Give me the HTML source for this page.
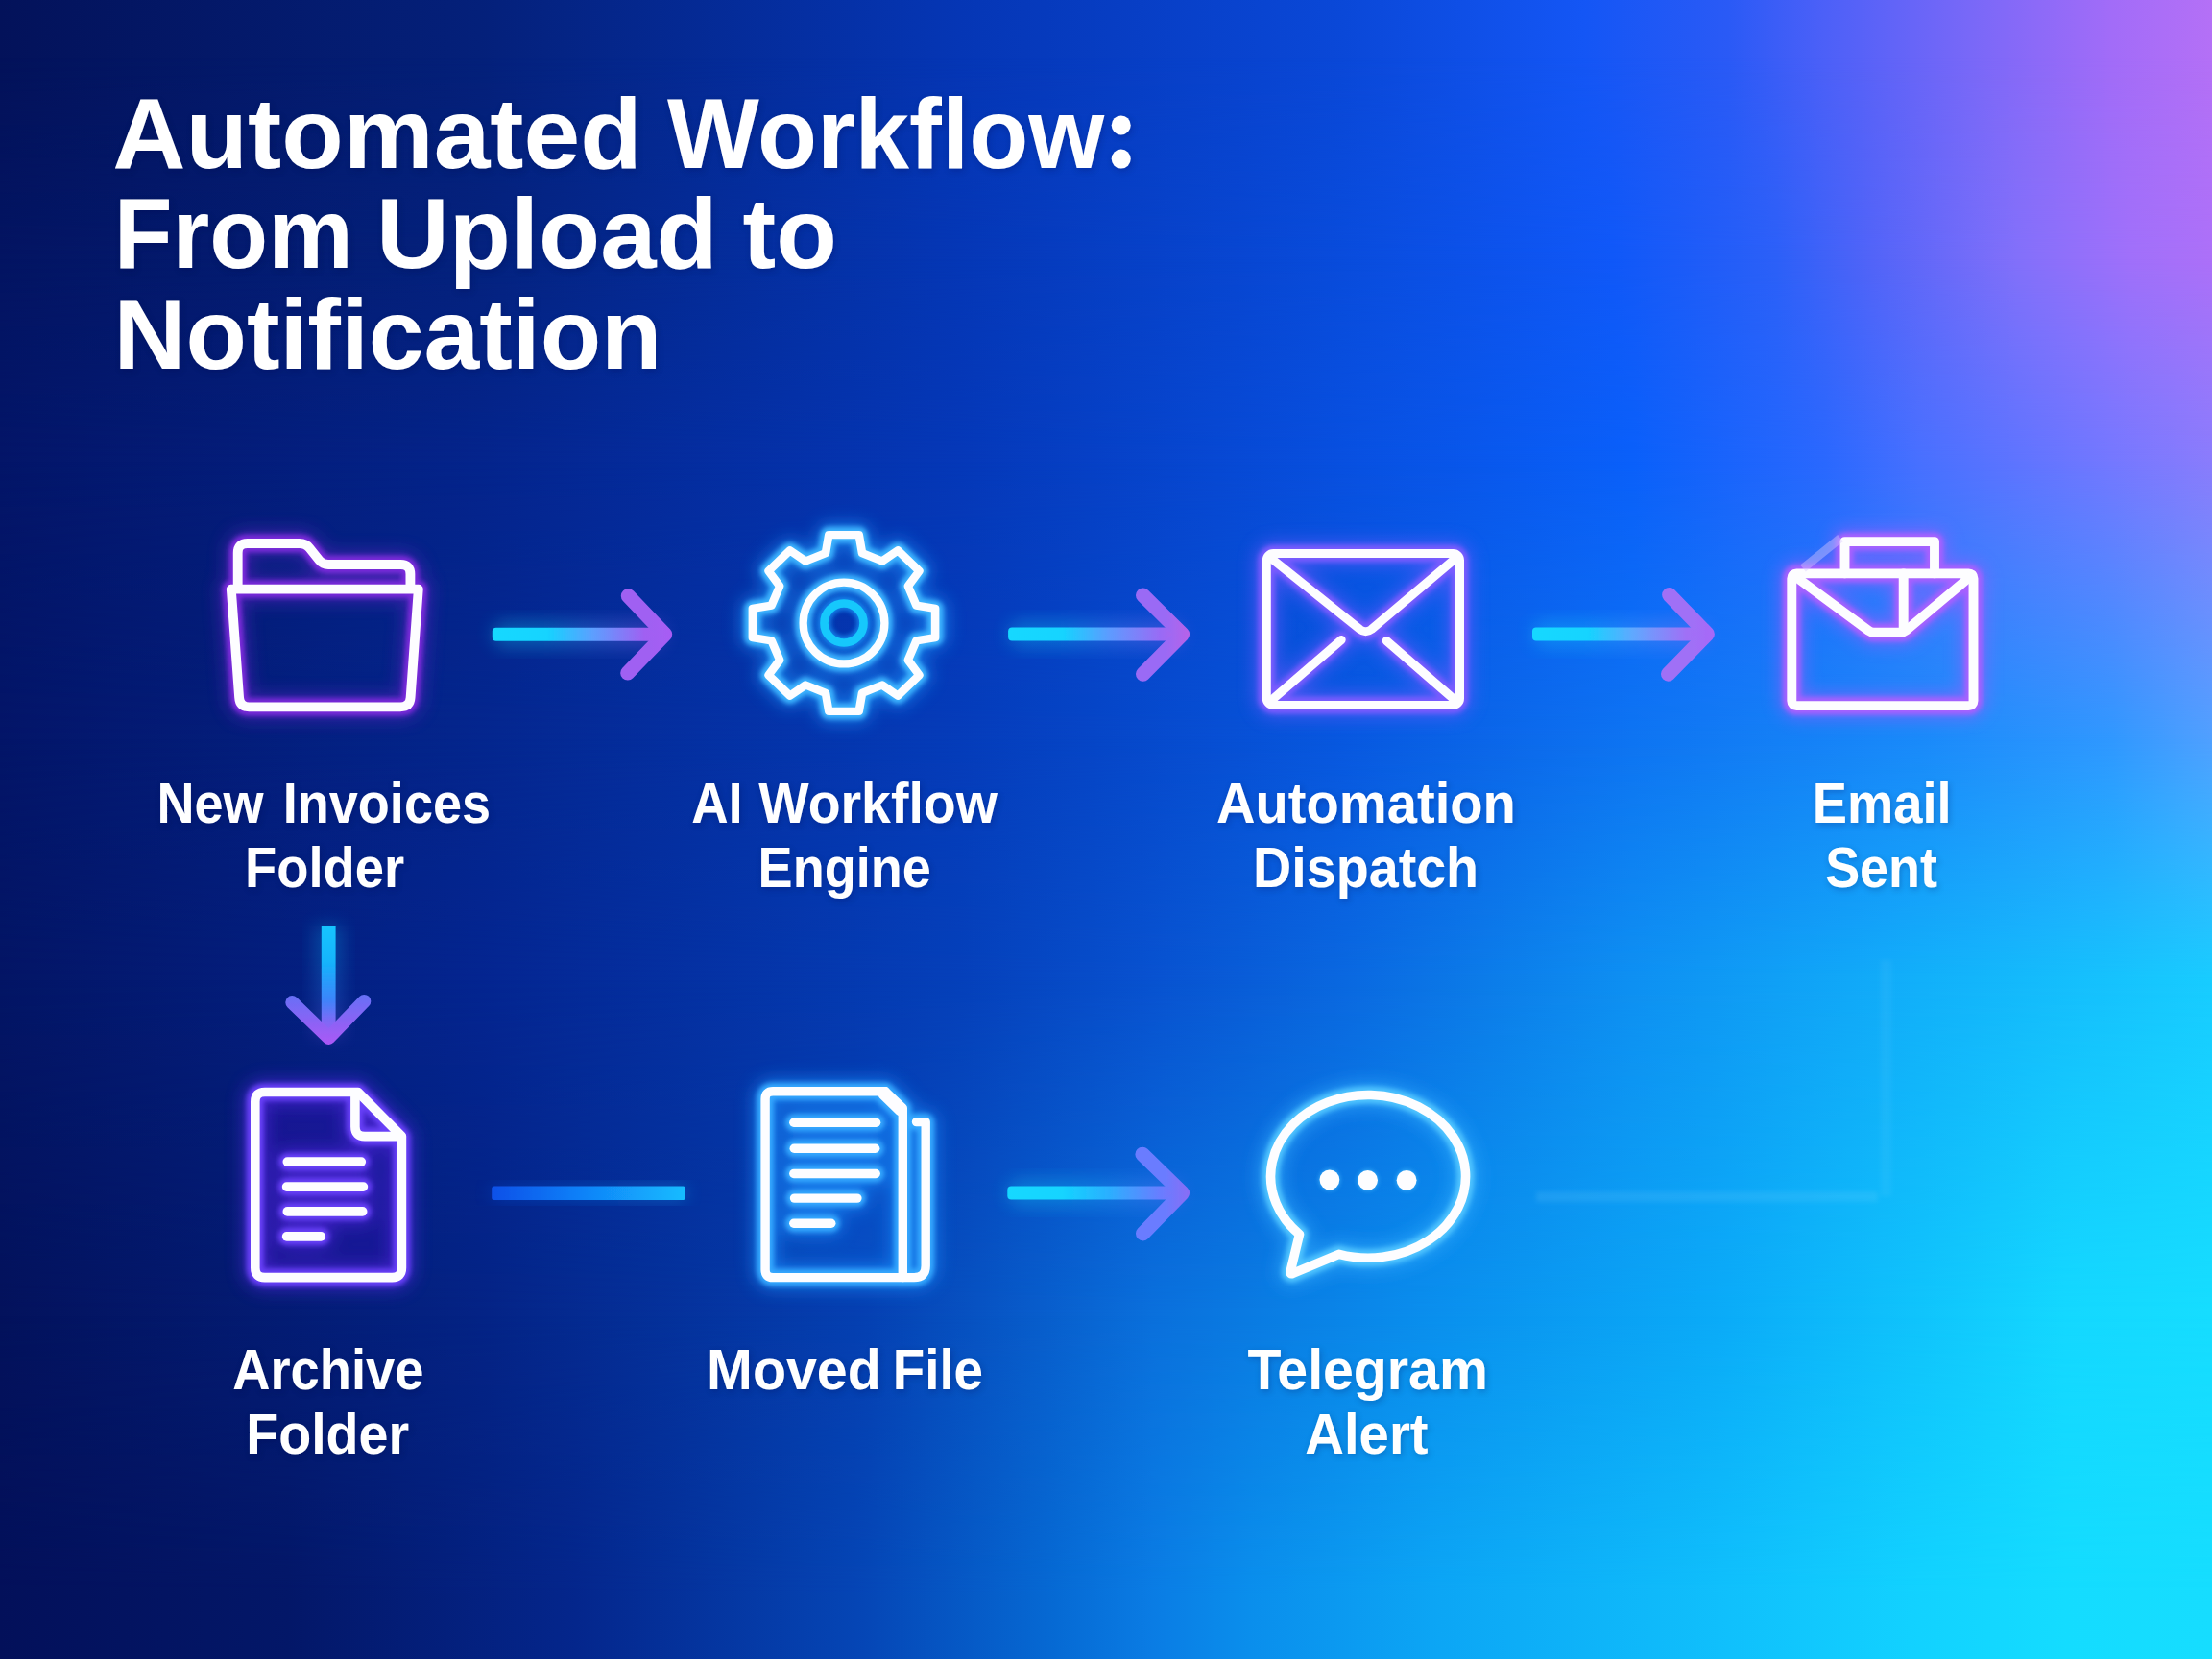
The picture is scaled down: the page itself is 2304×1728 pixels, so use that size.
<!DOCTYPE html>
<html lang="en">
<head>
<meta charset="utf-8">
<title>Automated Workflow: From Upload to Notification</title>
<style>
  html, body { margin:0; padding:0; background:#03125A; }
  body { width:2304px; height:1728px; overflow:hidden; position:relative;
         font-family:"Liberation Sans", sans-serif; }
  .bg { position:absolute; left:0; top:0; width:2304px; height:1728px; }
  svg { position:absolute; left:0; top:0; }
</style>
</head>
<body>
<div class="bg" style="background:linear-gradient(90deg, #03125A 0.00%, #04207A 21.70%, #0536B5 43.40%, #0A48D8 60.76%, #1456F5 71.61%, #2A5AF6 78.12%, #4C60F8 82.47%, #7868F8 88.98%, #A26CF8 95.49%, #B470F6 100.00%);"></div>
<div class="bg" style="background:linear-gradient(90deg, #031462 0.00%, #04227E 21.70%, #0537B6 43.40%, #094CDC 60.76%, #1058F8 72.92%, #2C60F8 80.30%, #5264F8 84.64%, #8270FA 91.15%, #A070FA 96.35%, #AC70F8 100.00%);-webkit-mask-image:linear-gradient(180deg, rgba(0,0,0,0) 60px, rgba(0,0,0,1) 270px);mask-image:linear-gradient(180deg, rgba(0,0,0,0) 60px, rgba(0,0,0,1) 270px);"></div>
<div class="bg" style="background:linear-gradient(90deg, #031568 0.00%, #04248C 21.70%, #0538B8 43.40%, #0850E0 60.76%, #0A60FA 73.78%, #2A68FE 82.47%, #4870FF 86.81%, #7478FF 95.49%, #8A7CFC 100.00%);-webkit-mask-image:linear-gradient(180deg, rgba(0,0,0,0) 270px, rgba(0,0,0,1) 480px);mask-image:linear-gradient(180deg, rgba(0,0,0,0) 270px, rgba(0,0,0,1) 480px);"></div>
<div class="bg" style="background:linear-gradient(90deg, #031568 0.00%, #04268E 21.70%, #053CBA 43.40%, #0858E0 60.76%, #0E74F2 73.78%, #1A8AFA 86.81%, #3098FF 95.49%, #50A0FF 100.00%);-webkit-mask-image:linear-gradient(180deg, rgba(0,0,0,0) 480px, rgba(0,0,0,1) 770px);mask-image:linear-gradient(180deg, rgba(0,0,0,0) 480px, rgba(0,0,0,1) 770px);"></div>
<div class="bg" style="background:linear-gradient(90deg, #031565 0.00%, #042590 21.70%, #0540BA 43.40%, #0852D0 52.08%, #0A68E0 60.76%, #0E90F2 73.78%, #12B0FA 86.81%, #18CCFF 100.00%);-webkit-mask-image:linear-gradient(180deg, rgba(0,0,0,0) 770px, rgba(0,0,0,1) 1020px);mask-image:linear-gradient(180deg, rgba(0,0,0,0) 770px, rgba(0,0,0,1) 1020px);"></div>
<div class="bg" style="background:linear-gradient(90deg, #03125C 0.00%, #042385 21.70%, #0540B2 39.06%, #0A70DC 52.08%, #0A90EE 65.10%, #0BACF8 78.12%, #10C4FC 86.81%, #14D8FF 93.32%, #16DDFF 100.00%);-webkit-mask-image:linear-gradient(180deg, rgba(0,0,0,0) 1020px, rgba(0,0,0,1) 1370px);mask-image:linear-gradient(180deg, rgba(0,0,0,0) 1020px, rgba(0,0,0,1) 1370px);"></div>
<div class="bg" style="background:linear-gradient(90deg, #03105A 0.00%, #031768 13.02%, #04268C 26.04%, #0546B6 39.06%, #066AD4 47.74%, #0A7CE4 52.08%, #0A8EEC 56.42%, #0CA6F5 65.10%, #10C0FC 78.12%, #12D2FF 86.81%, #14DCFF 93.32%, #16DDFF 100.00%);-webkit-mask-image:linear-gradient(180deg, rgba(0,0,0,0) 1370px, rgba(0,0,0,1) 1660px);mask-image:linear-gradient(180deg, rgba(0,0,0,0) 1370px, rgba(0,0,0,1) 1660px);"></div>
<svg width="2304" height="1728" viewBox="0 0 2304 1728">
<defs>
  <filter id="b05" x="-20%" y="-20%" width="140%" height="140%"><feGaussianBlur stdDeviation="0.6"/></filter>
  <filter id="b3" x="-30%" y="-30%" width="160%" height="160%"><feGaussianBlur stdDeviation="2.6"/></filter>
  <filter id="tsh" filterUnits="userSpaceOnUse" x="0" y="0" width="2304" height="1728"><feDropShadow dx="1.5" dy="2.5" stdDeviation="3" flood-color="#000a3c" flood-opacity="0.22"/></filter>
  <filter id="b10" x="-40%" y="-40%" width="180%" height="180%"><feGaussianBlur stdDeviation="9"/></filter>
</defs>
<g fill="none" stroke="#5a22c0" stroke-width="25.8" stroke-linecap="round" stroke-linejoin="round" filter="url(#b10)" opacity="0.6"><path d="M247.7,610 L247.7,576 Q247.7,566 257.7,566 L312,566 Q318.5,566 322.5,571 L332.5,583.5 Q336,588 342,588 L417.4,588 Q427.4,588 427.4,598 L427.4,610"/><path d="M240.8,613.6 L435.8,613.6 L427.6,726.5 Q426.9,736.3 417,736.3 L259.5,736.3 Q249.8,736.3 249.1,726.5 Z"/></g>
<g fill="none" stroke="#7c2cdc" stroke-width="18.3" stroke-linecap="round" stroke-linejoin="round" filter="url(#b3)" opacity="1"><path d="M247.7,610 L247.7,576 Q247.7,566 257.7,566 L312,566 Q318.5,566 322.5,571 L332.5,583.5 Q336,588 342,588 L417.4,588 Q427.4,588 427.4,598 L427.4,610"/><path d="M240.8,613.6 L435.8,613.6 L427.6,726.5 Q426.9,736.3 417,736.3 L259.5,736.3 Q249.8,736.3 249.1,726.5 Z"/></g>
<g fill="none" stroke="#fdfdff" stroke-width="9.8" stroke-linecap="round" stroke-linejoin="round" filter="url(#b05)"><path d="M247.7,610 L247.7,576 Q247.7,566 257.7,566 L312,566 Q318.5,566 322.5,571 L332.5,583.5 Q336,588 342,588 L417.4,588 Q427.4,588 427.4,598 L427.4,610"/><path d="M240.8,613.6 L435.8,613.6 L427.6,726.5 Q426.9,736.3 417,736.3 L259.5,736.3 Q249.8,736.3 249.1,726.5 Z"/></g>
<g fill="none" stroke="#1e96ff" stroke-width="24.3" stroke-linecap="round" stroke-linejoin="round" filter="url(#b10)" opacity="0.6"><path transform="translate(879.0,0) scale(1.036,1) translate(-879.0,0)" d="M860.6,576.2 L863.8,557.2 L894.2,557.2 L897.4,576.2 L917.5,584.5 L933.2,573.3 L954.7,594.8 L943.5,610.5 L951.8,630.6 L970.8,633.8 L970.8,664.2 L951.8,667.4 L943.5,687.5 L954.7,703.2 L933.2,724.7 L917.5,713.5 L897.4,721.8 L894.2,740.8 L863.8,740.8 L860.6,721.8 L840.5,713.5 L824.8,724.7 L803.3,703.2 L814.5,687.5 L806.2,667.4 L787.2,664.2 L787.2,633.8 L806.2,630.6 L814.5,610.5 L803.3,594.8 L824.8,573.3 L840.5,584.5 Z"/><circle cx="879.0" cy="649.0" r="42.4"/></g>
<g fill="none" stroke="#3cb4ff" stroke-width="16.8" stroke-linecap="round" stroke-linejoin="round" filter="url(#b3)" opacity="1"><path transform="translate(879.0,0) scale(1.036,1) translate(-879.0,0)" d="M860.6,576.2 L863.8,557.2 L894.2,557.2 L897.4,576.2 L917.5,584.5 L933.2,573.3 L954.7,594.8 L943.5,610.5 L951.8,630.6 L970.8,633.8 L970.8,664.2 L951.8,667.4 L943.5,687.5 L954.7,703.2 L933.2,724.7 L917.5,713.5 L897.4,721.8 L894.2,740.8 L863.8,740.8 L860.6,721.8 L840.5,713.5 L824.8,724.7 L803.3,703.2 L814.5,687.5 L806.2,667.4 L787.2,664.2 L787.2,633.8 L806.2,630.6 L814.5,610.5 L803.3,594.8 L824.8,573.3 L840.5,584.5 Z"/><circle cx="879.0" cy="649.0" r="42.4"/></g>
<g fill="none" stroke="#fdfdff" stroke-width="8.3" stroke-linecap="round" stroke-linejoin="round" filter="url(#b05)"><path transform="translate(879.0,0) scale(1.036,1) translate(-879.0,0)" d="M860.6,576.2 L863.8,557.2 L894.2,557.2 L897.4,576.2 L917.5,584.5 L933.2,573.3 L954.7,594.8 L943.5,610.5 L951.8,630.6 L970.8,633.8 L970.8,664.2 L951.8,667.4 L943.5,687.5 L954.7,703.2 L933.2,724.7 L917.5,713.5 L897.4,721.8 L894.2,740.8 L863.8,740.8 L860.6,721.8 L840.5,713.5 L824.8,724.7 L803.3,703.2 L814.5,687.5 L806.2,667.4 L787.2,664.2 L787.2,633.8 L806.2,630.6 L814.5,610.5 L803.3,594.8 L824.8,573.3 L840.5,584.5 Z"/><circle cx="879.0" cy="649.0" r="42.4"/></g>
<circle cx="879.0" cy="649.0" r="20.5" fill="none" stroke="#1a9cff" stroke-width="14" filter="url(#b3)" opacity="0.7"/><circle cx="879.0" cy="649.0" r="20.5" fill="none" stroke="#14c8fc" stroke-width="8.7" filter="url(#b05)"/>
<g fill="none" stroke="#6a58ff" stroke-width="25.0" stroke-linecap="round" stroke-linejoin="round" filter="url(#b10)" opacity="0.6"><rect x="1319.3" y="576.6" width="201.2" height="157.8" rx="7" ry="7"/><path d="M1321.5,579.5 L1416.5,655.5 Q1422.5,660 1428.5,655.5 L1518.5,579.5"/><path d="M1322.5,731 L1397.2,666.5"/><path d="M1517.5,731 L1444.2,667.5"/></g>
<g fill="none" stroke="#7a5cff" stroke-width="17.5" stroke-linecap="round" stroke-linejoin="round" filter="url(#b3)" opacity="1"><rect x="1319.3" y="576.6" width="201.2" height="157.8" rx="7" ry="7"/><path d="M1321.5,579.5 L1416.5,655.5 Q1422.5,660 1428.5,655.5 L1518.5,579.5"/><path d="M1322.5,731 L1397.2,666.5"/><path d="M1517.5,731 L1444.2,667.5"/></g>
<g fill="none" stroke="#fdfdff" stroke-width="9.0" stroke-linecap="round" stroke-linejoin="round" filter="url(#b05)"><rect x="1319.3" y="576.6" width="201.2" height="157.8" rx="7" ry="7"/><path d="M1321.5,579.5 L1416.5,655.5 Q1422.5,660 1428.5,655.5 L1518.5,579.5"/><path d="M1322.5,731 L1397.2,666.5"/><path d="M1517.5,731 L1444.2,667.5"/></g>
<g fill="none" stroke="#9a5cff" stroke-width="25.9" stroke-linecap="round" stroke-linejoin="round" filter="url(#b10)" opacity="0.6"><rect x="1866.3" y="597.4" width="189.2" height="137.7" rx="5" ry="5"/><path d="M1921.5,597.4 L1921.5,564.1 L2015,564.1 L2015,597.4"/><path d="M1868,599 L1946.2,656.8 Q1948.7,658.7 1951.8,658.7 L1980,658.7 Q1983,658.7 1985.3,656.8 L2054,599"/><path d="M1982.7,597.4 L1982.7,656"/></g>
<g fill="none" stroke="#a860ff" stroke-width="18.4" stroke-linecap="round" stroke-linejoin="round" filter="url(#b3)" opacity="1"><rect x="1866.3" y="597.4" width="189.2" height="137.7" rx="5" ry="5"/><path d="M1921.5,597.4 L1921.5,564.1 L2015,564.1 L2015,597.4"/><path d="M1868,599 L1946.2,656.8 Q1948.7,658.7 1951.8,658.7 L1980,658.7 Q1983,658.7 1985.3,656.8 L2054,599"/><path d="M1982.7,597.4 L1982.7,656"/></g>
<g fill="none" stroke="#fdfdff" stroke-width="9.9" stroke-linecap="round" stroke-linejoin="round" filter="url(#b05)"><rect x="1866.3" y="597.4" width="189.2" height="137.7" rx="5" ry="5"/><path d="M1921.5,597.4 L1921.5,564.1 L2015,564.1 L2015,597.4"/><path d="M1868,599 L1946.2,656.8 Q1948.7,658.7 1951.8,658.7 L1980,658.7 Q1983,658.7 1985.3,656.8 L2054,599"/><path d="M1982.7,597.4 L1982.7,656"/></g>
<path d="M1878,592 L1917,560.5" stroke="#d8c8ff" stroke-width="9" stroke-linecap="butt" fill="none" opacity="0.42" filter="url(#b05)"/>
<path d="M372.8,1137.5 L275.8,1137.5 Q265.8,1137.5 265.8,1147.5 L265.8,1320.6 Q265.8,1330.6 275.8,1330.6 L408.4,1330.6 Q418.4,1330.6 418.4,1320.6 L418.4,1183.5 Z" fill="#3410b8" opacity="0.40"/>
<g fill="none" stroke="#5428e0" stroke-width="25.6" stroke-linecap="round" stroke-linejoin="round" filter="url(#b10)" opacity="0.6"><path d="M372.8,1137.5 L275.8,1137.5 Q265.8,1137.5 265.8,1147.5 L265.8,1320.6 Q265.8,1330.6 275.8,1330.6 L408.4,1330.6 Q418.4,1330.6 418.4,1320.6 L418.4,1183.5 Z"/><path d="M369.9,1139 L369.9,1173.5 Q369.9,1183.6 380,1183.6 L416.5,1183.6"/><path d="M299.3,1210.1 L376.3,1210.1"/><path d="M298.6,1236.1 L378.4,1236.1"/><path d="M299.3,1261.9 L377.7,1261.9"/><path d="M298.6,1287.9 L334.3,1287.9"/></g>
<g fill="none" stroke="#6840f8" stroke-width="18.1" stroke-linecap="round" stroke-linejoin="round" filter="url(#b3)" opacity="1"><path d="M372.8,1137.5 L275.8,1137.5 Q265.8,1137.5 265.8,1147.5 L265.8,1320.6 Q265.8,1330.6 275.8,1330.6 L408.4,1330.6 Q418.4,1330.6 418.4,1320.6 L418.4,1183.5 Z"/><path d="M369.9,1139 L369.9,1173.5 Q369.9,1183.6 380,1183.6 L416.5,1183.6"/><path d="M299.3,1210.1 L376.3,1210.1"/><path d="M298.6,1236.1 L378.4,1236.1"/><path d="M299.3,1261.9 L377.7,1261.9"/><path d="M298.6,1287.9 L334.3,1287.9"/></g>
<g fill="none" stroke="#fdfdff" stroke-width="9.6" stroke-linecap="round" stroke-linejoin="round" filter="url(#b05)"><path d="M372.8,1137.5 L275.8,1137.5 Q265.8,1137.5 265.8,1147.5 L265.8,1320.6 Q265.8,1330.6 275.8,1330.6 L408.4,1330.6 Q418.4,1330.6 418.4,1320.6 L418.4,1183.5 Z"/><path d="M369.9,1139 L369.9,1173.5 Q369.9,1183.6 380,1183.6 L416.5,1183.6"/><path d="M299.3,1210.1 L376.3,1210.1"/><path d="M298.6,1236.1 L378.4,1236.1"/><path d="M299.3,1261.9 L377.7,1261.9"/><path d="M298.6,1287.9 L334.3,1287.9"/></g>
<path d="M922.2,1136.8 L805.1,1136.8 Q797.1,1136.8 797.1,1144.8 L797.1,1322.6 Q797.1,1330.6 805.1,1330.6 L940.3,1330.6 L940.3,1154.1 Z" fill="#1080ff" opacity="0.22"/>
<g fill="none" stroke="#1a90ff" stroke-width="25.4" stroke-linecap="round" stroke-linejoin="round" filter="url(#b10)" opacity="0.6"><path d="M922.2,1136.8 L805.1,1136.8 Q797.1,1136.8 797.1,1144.8 L797.1,1322.6 Q797.1,1330.6 805.1,1330.6 L952.2,1330.6 Q964.2,1330.6 964.2,1318.6 L964.2,1168.6 L954.5,1168.6"/><path d="M922.2,1136.8 L940.3,1154.1 L940.3,1330.6"/><path d="M919.5,1140.5 L937,1157.5"/><path d="M826.8,1169.3 L912.6,1169.3"/><path d="M827.2,1196.3 L911.7,1196.3"/><path d="M826.8,1222.5 L912.2,1222.5"/><path d="M827.5,1248.1 L892.9,1248.1"/><path d="M826.8,1274.2 L865.8,1274.2"/></g>
<g fill="none" stroke="#34a8ff" stroke-width="17.9" stroke-linecap="round" stroke-linejoin="round" filter="url(#b3)" opacity="1"><path d="M922.2,1136.8 L805.1,1136.8 Q797.1,1136.8 797.1,1144.8 L797.1,1322.6 Q797.1,1330.6 805.1,1330.6 L952.2,1330.6 Q964.2,1330.6 964.2,1318.6 L964.2,1168.6 L954.5,1168.6"/><path d="M922.2,1136.8 L940.3,1154.1 L940.3,1330.6"/><path d="M919.5,1140.5 L937,1157.5"/><path d="M826.8,1169.3 L912.6,1169.3"/><path d="M827.2,1196.3 L911.7,1196.3"/><path d="M826.8,1222.5 L912.2,1222.5"/><path d="M827.5,1248.1 L892.9,1248.1"/><path d="M826.8,1274.2 L865.8,1274.2"/></g>
<g fill="none" stroke="#fdfdff" stroke-width="9.4" stroke-linecap="round" stroke-linejoin="round" filter="url(#b05)"><path d="M922.2,1136.8 L805.1,1136.8 Q797.1,1136.8 797.1,1144.8 L797.1,1322.6 Q797.1,1330.6 805.1,1330.6 L952.2,1330.6 Q964.2,1330.6 964.2,1318.6 L964.2,1168.6 L954.5,1168.6"/><path d="M922.2,1136.8 L940.3,1154.1 L940.3,1330.6"/><path d="M919.5,1140.5 L937,1157.5"/><path d="M826.8,1169.3 L912.6,1169.3"/><path d="M827.2,1196.3 L911.7,1196.3"/><path d="M826.8,1222.5 L912.2,1222.5"/><path d="M827.5,1248.1 L892.9,1248.1"/><path d="M826.8,1274.2 L865.8,1274.2"/></g>
<g fill="none" stroke="#38b0ff" stroke-width="25.6" stroke-linecap="round" stroke-linejoin="round" filter="url(#b10)" opacity="0.6"><path d="M1353.5,1285.6 A101.5,84.9 0 1 1 1394.7,1306.4 L1346.6,1326.4 Q1343.4,1327.5 1344.2,1324.2 Z"/></g>
<g fill="none" stroke="#50c4ff" stroke-width="18.1" stroke-linecap="round" stroke-linejoin="round" filter="url(#b3)" opacity="1"><path d="M1353.5,1285.6 A101.5,84.9 0 1 1 1394.7,1306.4 L1346.6,1326.4 Q1343.4,1327.5 1344.2,1324.2 Z"/></g>
<g fill="none" stroke="#fdfdff" stroke-width="9.6" stroke-linecap="round" stroke-linejoin="round" filter="url(#b05)"><path d="M1353.5,1285.6 A101.5,84.9 0 1 1 1394.7,1306.4 L1346.6,1326.4 Q1343.4,1327.5 1344.2,1324.2 Z"/></g>
<g fill="#48c0ff" filter="url(#b3)" opacity="0.9"><circle cx="1384.9" cy="1228.8" r="10.4"/><circle cx="1424.6" cy="1229.3" r="10.4"/><circle cx="1465.1" cy="1229.3" r="10.4"/></g><g fill="#fdfdff" filter="url(#b05)"><circle cx="1384.9" cy="1228.8" r="10.4"/><circle cx="1424.6" cy="1229.3" r="10.4"/><circle cx="1465.1" cy="1229.3" r="10.4"/></g>

<linearGradient id="ag1" gradientUnits="userSpaceOnUse" x1="512.8" y1="0" x2="701.6" y2="0"><stop offset="0" stop-color="#14d8ff"/><stop offset="0.30" stop-color="#14d4ff"/><stop offset="0.55" stop-color="#5ba0ff"/><stop offset="0.84" stop-color="#a060f2"/><stop offset="1" stop-color="#a85cf4"/></linearGradient>
<linearGradient id="ah1" gradientUnits="userSpaceOnUse" x1="646.4" y1="0" x2="701.6" y2="0"><stop offset="0" stop-color="#a060f2"/><stop offset="0.55" stop-color="#a060f2"/><stop offset="1" stop-color="#a85cf4"/></linearGradient>
<rect x="512.8" y="646.8" width="179.80000000000007" height="28.0" rx="14.0" fill="url(#ag1)" filter="url(#b10)" opacity="0.30"/><rect x="512.8" y="653.8" width="182.80000000000007" height="14.0" rx="4" fill="url(#ag1)" filter="url(#b05)"/><path d="M654.4,620.7 L692.6,660.8 L653.8,701.0" stroke="url(#ah1)" stroke-width="15.2" stroke-linecap="round" stroke-linejoin="round" fill="none" filter="url(#b05)"/>
<linearGradient id="ag2" gradientUnits="userSpaceOnUse" x1="1050.1" y1="0" x2="1239.9" y2="0"><stop offset="0" stop-color="#14d8ff"/><stop offset="0.30" stop-color="#14d4ff"/><stop offset="0.55" stop-color="#5c9cff"/><stop offset="0.84" stop-color="#9a6af5"/><stop offset="1" stop-color="#b862e8"/></linearGradient>
<linearGradient id="ah2" gradientUnits="userSpaceOnUse" x1="1182.6" y1="0" x2="1239.9" y2="0"><stop offset="0" stop-color="#9a6af5"/><stop offset="0.55" stop-color="#9a6af5"/><stop offset="1" stop-color="#b862e8"/></linearGradient>
<rect x="1050.1" y="646.6" width="181.4000000000001" height="28.0" rx="14.0" fill="url(#ag2)" filter="url(#b10)" opacity="0.30"/><rect x="1050.1" y="653.6" width="184.4000000000001" height="14.0" rx="4" fill="url(#ag2)" filter="url(#b05)"/><path d="M1190.6,620.1 L1231.5,660.6 L1190.6,702.1" stroke="url(#ah2)" stroke-width="15.2" stroke-linecap="round" stroke-linejoin="round" fill="none" filter="url(#b05)"/>
<linearGradient id="ag3" gradientUnits="userSpaceOnUse" x1="1596.0" y1="0" x2="1787.0" y2="0"><stop offset="0" stop-color="#14d8ff"/><stop offset="0.30" stop-color="#14d4ff"/><stop offset="0.55" stop-color="#60a8ff"/><stop offset="0.84" stop-color="#a070f6"/><stop offset="1" stop-color="#a868f8"/></linearGradient>
<linearGradient id="ah3" gradientUnits="userSpaceOnUse" x1="1730.7" y1="0" x2="1787.0" y2="0"><stop offset="0" stop-color="#a070f6"/><stop offset="0.55" stop-color="#a070f6"/><stop offset="1" stop-color="#a868f8"/></linearGradient>
<rect x="1596.0" y="646.4" width="182.29999999999995" height="28.0" rx="14.0" fill="url(#ag3)" filter="url(#b10)" opacity="0.30"/><rect x="1596.0" y="653.4" width="185.29999999999995" height="14.0" rx="4" fill="url(#ag3)" filter="url(#b05)"/><path d="M1738.7,619.6 L1778.3,660.4 L1737.6,702.1" stroke="url(#ah3)" stroke-width="15.2" stroke-linecap="round" stroke-linejoin="round" fill="none" filter="url(#b05)"/>
<linearGradient id="ag4" gradientUnits="userSpaceOnUse" x1="1049.3" y1="0" x2="1239.9" y2="0"><stop offset="0" stop-color="#14d8ff"/><stop offset="0.30" stop-color="#14d4ff"/><stop offset="0.55" stop-color="#2ab0ff"/><stop offset="0.84" stop-color="#6a7cff"/><stop offset="1" stop-color="#8a6cf5"/></linearGradient>
<linearGradient id="ah4" gradientUnits="userSpaceOnUse" x1="1182.0" y1="0" x2="1239.9" y2="0"><stop offset="0" stop-color="#6a7cff"/><stop offset="0.55" stop-color="#6a7cff"/><stop offset="1" stop-color="#8a6cf5"/></linearGradient>
<rect x="1049.3" y="1228.6" width="182.20000000000005" height="28.0" rx="14.0" fill="url(#ag4)" filter="url(#b10)" opacity="0.30"/><rect x="1049.3" y="1235.6" width="185.20000000000005" height="14.0" rx="4" fill="url(#ag4)" filter="url(#b05)"/><path d="M1190.0,1202.3 L1231.5,1242.6 L1190.6,1284.8" stroke="url(#ah4)" stroke-width="15.2" stroke-linecap="round" stroke-linejoin="round" fill="none" filter="url(#b05)"/>
<linearGradient id="lg5" gradientUnits="userSpaceOnUse" x1="512" y1="0" x2="714" y2="0"><stop offset="0" stop-color="#0d50e8"/><stop offset="0.45" stop-color="#1080f8"/><stop offset="1" stop-color="#14bcff"/></linearGradient><rect x="512.2" y="1235.4" width="201.8" height="14.7" rx="2" fill="url(#lg5)" filter="url(#b10)" opacity="0.35"/><rect x="512.2" y="1235.4" width="201.8" height="14.7" rx="2.5" fill="url(#lg5)" filter="url(#b05)"/>
<linearGradient id="dg" gradientUnits="userSpaceOnUse" x1="0" y1="964" x2="0" y2="1089"><stop offset="0" stop-color="#12c4ff"/><stop offset="0.30" stop-color="#14b4fc"/><stop offset="0.62" stop-color="#3c84fa"/><stop offset="0.80" stop-color="#8068f6"/><stop offset="1" stop-color="#aa58f6"/></linearGradient><rect x="327.2" y="964" width="30" height="116" fill="url(#dg)" filter="url(#b10)" opacity="0.25"/><rect x="334.8" y="964" width="14.8" height="118" rx="1.5" fill="url(#dg)" filter="url(#b05)"/><linearGradient id="dg2" gradientUnits="userSpaceOnUse" x1="0" y1="1036" x2="0" y2="1088"><stop offset="0" stop-color="#6670f6"/><stop offset="0.5" stop-color="#8864f5"/><stop offset="1" stop-color="#ac58f6"/></linearGradient><path d="M304.3,1044.1 L342.4,1081 L379.3,1042.9" stroke="url(#dg2)" stroke-width="14" stroke-linecap="round" stroke-linejoin="round" fill="none" filter="url(#b05)"/>
<rect x="1600" y="1241" width="356" height="11" fill="#8fdcff" opacity="0.14" filter="url(#b3)"/><rect x="1959" y="1000" width="11" height="246" fill="#8fdcff" opacity="0.09" filter="url(#b3)"/>

<g font-family="'Liberation Sans', sans-serif" font-weight="700" fill="#ffffff" filter="url(#tsh)">
<text transform="translate(117.35,174.9) scale(1.0202,1)" font-size="103.5">Automated</text>
<text transform="translate(695.00,174.9) scale(0.9815,1)" font-size="103.5">Workflow</text>
<text transform="translate(118.77,279.4) scale(0.9623,1)" font-size="103.5">From</text>
<text transform="translate(392.08,279.4) scale(1.0140,1)" font-size="103.5">Upload</text>
<text transform="translate(773.60,279.4) scale(1.0063,1)" font-size="103.5">to</text>
<text transform="translate(118.51,383.8) scale(1.0032,1)" font-size="103.5">Notification</text>
<text transform="translate(163.42,856.9) scale(0.9005,1)" font-size="60.0">New</text>
<text transform="translate(294.82,856.9) scale(0.9007,1)" font-size="60.0">Invoices</text>
<text transform="translate(255.00,923.5) scale(0.9058,1)" font-size="60.0">Folder</text>
<text transform="translate(720.37,856.9) scale(0.8862,1)" font-size="60.0">AI</text>
<text transform="translate(790.30,856.9) scale(0.9242,1)" font-size="60.0">Workflow</text>
<text transform="translate(789.62,923.5) scale(0.9006,1)" font-size="60.0">Engine</text>
<text transform="translate(1267.02,856.9) scale(0.9358,1)" font-size="60.0">Automation</text>
<text transform="translate(1305.12,923.5) scale(0.9273,1)" font-size="60.0">Dispatch</text>
<text transform="translate(1887.71,856.9) scale(0.9052,1)" font-size="60.0">Email</text>
<text transform="translate(1901.16,923.5) scale(0.8984,1)" font-size="60.0">Sent</text>
<text transform="translate(242.25,1447.3) scale(0.9055,1)" font-size="60.0">Archive</text>
<text transform="translate(256.22,1513.8) scale(0.9270,1)" font-size="60.0">Folder</text>
<text transform="translate(736.11,1446.9) scale(0.9565,1)" font-size="60.0">Moved</text>
<text transform="translate(929.78,1446.9) scale(0.9122,1)" font-size="60.0">File</text>
<text transform="translate(1299.60,1446.9) scale(0.9541,1)" font-size="60.0">Telegram</text>
<text transform="translate(1359.22,1513.5) scale(0.9390,1)" font-size="60.0">Alert</text>
<circle cx="1167.7" cy="130.4" r="10"/><circle cx="1167.7" cy="165.6" r="10"/>
</g>

</svg>
</body>
</html>
